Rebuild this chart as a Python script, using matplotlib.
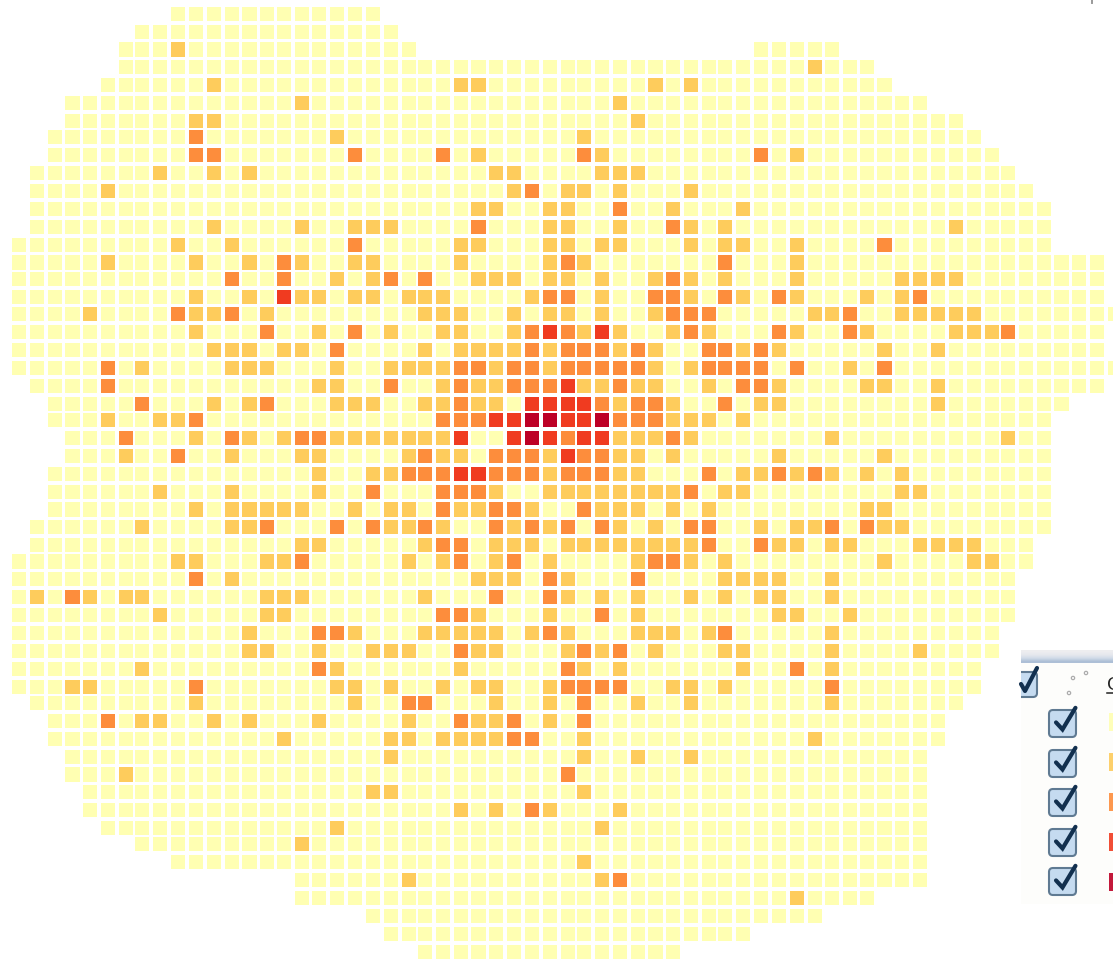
import numpy as np
import matplotlib
matplotlib.use("Agg")
import matplotlib.pyplot as plt
from matplotlib.collections import PatchCollection
from matplotlib.patches import Rectangle, FancyBboxPatch, Circle

# first and last occupied column of each grid row (row 2 has a second run)
row_first = [9,7,6,6,5,3,3,2,2,1,1,1,1,0,0,0,0,0,0,0,0,1,2,2,3,3,2,2,2,1,1,0,0,0,0,0,0,0,0,1,2,2,3,3,4,4,5,7,9,16,16,20,21,23]
row_last = [20,21,22,48,49,51,53,54,55,56,57,58,58,58,61,61,61,62,61,61,62,61,59,58,58,58,58,58,58,58,57,57,56,56,56,55,55,54,54,53,52,52,51,51,51,51,51,51,51,51,48,45,41,37]
row2_extra = (42, 46)

# non-lowest classes per row, written as column:class
row_cells = [
"", "", "9:1", "45:1",
"11:1 25:1 26:1 36:1 38:1",
"16:1 34:1",
"10:1 11:1 35:1",
"10:2 18:1 32:1",
"10:2 11:2 19:2 24:2 26:1 32:2 33:1 42:2 44:1",
"8:1 11:1 13:1 27:1 28:1 33:1 34:1 35:1",
"5:1 28:1 29:2 31:1 32:1 34:1 38:1",
"26:1 27:1 30:1 31:1 34:2 37:1 41:1",
"11:1 16:1 19:1 20:1 21:1 26:2 30:1 31:1 34:1 37:2 38:1 40:1 53:1",
"9:1 12:1 19:2 25:1 26:1 30:1 31:1 33:1 34:1 38:1 40:1 41:1 44:1 49:2",
"5:1 10:1 13:1 15:2 16:1 19:1 20:1 25:1 30:1 31:2 32:1 40:2 44:1",
"12:2 15:2 18:1 20:1 21:2 23:2 26:1 27:1 28:1 30:1 31:1 33:1 36:1 37:2 38:1 40:1 44:1 50:1 51:1 52:1 53:1",
"10:1 13:1 15:3 16:1 17:1 19:1 20:1 22:1 23:1 24:1 29:1 30:2 31:2 33:1 36:2 37:2 38:1 40:2 41:1 43:2 44:1 48:1 50:1 51:2",
"4:1 9:2 10:1 11:1 12:2 14:1 23:1 24:1 25:1 28:1 30:1 31:1 33:1 36:1 37:2 38:2 39:2 45:1 46:1 47:2 50:1 51:1 52:1 53:1 54:1",
"10:1 14:2 17:1 19:2 21:1 24:1 25:1 28:1 29:2 30:3 31:2 32:1 33:3 34:1 37:1 38:2 39:1 43:2 44:1 47:2 48:1 53:1 54:1 55:1 56:2",
"11:1 12:1 13:1 15:1 16:1 18:2 23:1 25:1 26:1 27:1 28:1 29:2 30:1 31:2 32:2 33:2 34:1 35:2 36:1 39:2 40:2 41:1 42:2 43:1 49:1 52:1",
"5:2 7:1 12:1 13:1 14:1 18:1 21:1 22:1 23:1 24:1 25:2 26:2 27:1 28:2 29:2 30:1 31:2 32:2 33:2 34:2 35:2 36:1 38:1 39:2 40:2 41:2 42:2 44:2 47:1 49:2",
"5:2 17:1 18:1 21:2 24:1 25:2 26:1 27:1 28:2 29:2 30:2 31:3 32:1 33:1 34:2 35:1 36:1 39:1 41:2 42:2 43:1 48:1 49:1 52:1",
"7:2 11:1 13:1 14:2 18:1 19:1 20:1 23:1 24:1 25:2 26:1 27:1 29:3 30:3 31:3 32:3 33:2 34:1 35:2 36:2 37:1 40:2 42:1 43:1 52:1",
"5:1 8:1 9:1 10:2 24:2 25:2 26:2 27:3 28:3 29:4 30:4 31:3 32:3 33:4 34:2 35:2 36:2 37:1 38:1 39:1 41:1",
"6:2 10:1 12:2 13:1 15:1 16:2 17:2 18:1 19:1 20:1 21:1 22:1 23:1 24:1 25:3 28:3 29:4 30:3 31:2 32:3 33:3 34:1 35:1 36:1 37:2 38:1 46:1 56:1",
"6:1 9:2 12:1 16:1 17:1 22:1 23:2 24:1 25:1 27:2 28:2 29:2 30:1 31:3 32:2 33:2 34:1 35:1 37:1 43:1 49:1",
"17:1 20:1 21:1 22:2 23:2 24:2 25:3 26:3 27:2 28:2 29:2 30:1 31:2 32:2 33:2 34:1 35:1 39:2 41:1 42:1 43:2 44:1 45:2 46:1 48:1 50:1",
"8:1 12:1 17:1 20:2 24:2 25:2 26:2 27:1 30:1 31:1 32:1 33:1 34:1 35:1 36:1 37:1 38:2 40:1 41:1 50:1 51:1",
"10:1 12:1 13:1 14:1 15:1 16:1 19:1 21:1 22:1 24:2 25:1 26:1 27:2 28:2 29:1 32:2 33:1 34:1 35:1 37:1 39:1 48:1 49:1",
"7:1 12:1 13:1 14:2 18:2 20:2 21:1 22:1 23:2 24:1 27:2 28:1 29:2 30:1 31:2 33:2 34:1 36:1 38:2 39:2 42:1 44:1 45:1 46:2 48:2 49:1 50:1",
"16:1 17:1 23:1 24:2 25:2 27:1 28:1 29:1 31:1 32:1 33:1 34:1 35:1 36:1 37:1 38:1 39:2 42:2 43:1 44:1 46:1 47:1 51:1 52:1 53:1 54:1",
"9:1 10:1 14:1 15:1 16:2 22:1 24:1 25:2 27:1 28:2 30:1 35:1 36:2 37:2 38:1 40:1 49:1 54:1 55:1",
"10:2 12:1 26:1 27:1 28:1 30:2 31:1 35:2 40:1 41:1 42:1 43:1 46:1",
"1:1 3:2 4:1 6:1 7:1 14:1 15:1 16:1 23:1 27:2 30:2 31:1 33:1 35:1 38:1 40:1 42:1 43:1 46:1",
"8:1 14:1 15:1 24:2 25:2 26:1 30:1 33:2 35:1 43:1 44:1 47:1",
"13:1 17:2 18:2 19:1 23:1 24:1 25:1 26:1 27:1 29:1 30:2 31:1 35:1 36:1 37:1 39:1 40:2 46:1",
"13:1 14:1 17:1 20:1 21:1 22:1 25:2 26:1 27:1 31:1 32:2 33:1 34:2 36:1 40:1 41:1 46:1 51:1",
"7:1 17:2 18:1 25:1 31:2 32:1 34:1 41:1 44:2 46:1",
"3:1 4:1 10:2 18:1 19:1 21:1 24:1 26:1 27:1 30:1 31:2 32:2 33:2 34:2 37:1 38:1 40:1 46:2",
"10:1 19:1 22:2 23:2 27:1 30:1 32:2 35:1 38:1 46:1",
"5:2 7:1 8:1 11:1 13:1 17:1 22:1 25:2 26:1 27:1 28:2 30:1 32:2",
"15:1 21:1 22:1 24:1 25:1 26:1 27:1 28:2 29:2 32:1 45:1",
"21:1 32:1 35:1 38:1",
"6:1 31:2",
"20:1 21:1 32:1",
"25:1 27:1 29:2 30:1 34:1",
"18:1 33:1",
"16:1",
"32:1",
"22:1 33:1 34:2",
"44:1",
"", "", "",
]
class_colors = ["#FFFFB2", "#FECC5C", "#FD8D3C", "#F03B20", "#BD0026"]
legend_heading = "G"

n_rows, n_cols = len(row_first), max(row_last) + 1
grid = np.full((n_rows, n_cols), -1, dtype=int)
for r, (a, b) in enumerate(zip(row_first, row_last)):
    grid[r, a:b + 1] = 0
grid[2, row2_extra[0]:row2_extra[1] + 1] = 0
for r, cells in enumerate(row_cells):
    for item in cells.split():
        c, v = item.split(":")
        grid[r, int(c)] = int(v)

W, H = 1113, 960
fig = plt.figure(figsize=(W / 100, H / 100), dpi=100, facecolor="white")
ax = fig.add_axes([0, 0, 1, 1])
ax.set_xlim(0, W)
ax.set_ylim(H, 0)
ax.axis("off")

# grid layout: the scan has a slightly narrower gap every eighth cell
CELL = 14.1
col_steps = np.full(n_cols, 17.84)
col_steps[0] = 19.0
col_steps[[7, 15, 23, 32, 40, 48, 56]] = 16.4
row_steps = np.full(n_rows, 17.89)
row_steps[0] = 13.7
row_steps[[7, 15, 23, 31, 39, 47]] = 16.2
col_px = np.cumsum(col_steps)
row_px = np.cumsum(row_steps)

patches, colors = [], []
for r, c in zip(*np.nonzero(grid >= 0)):
    patches.append(Rectangle((col_px[c] - CELL / 2, row_px[r] - CELL / 2), CELL, CELL))
    colors.append(class_colors[grid[r, c]])
ax.add_collection(PatchCollection(patches, facecolors=colors, edgecolors="none", zorder=1))

# legend panel fragment
ax.add_patch(Rectangle((1021, 650), 92, 254, fc="#FDFDFB", ec="none", zorder=2))
ramp = np.array([[[0.93, 0.93, 0.94]], [[0.90, 0.91, 0.93]], [[0.82, 0.86, 0.91]], [[0.68, 0.75, 0.84]]])
ax.imshow(ramp, extent=(1021, 1113, 663, 650), aspect="auto", interpolation="bilinear", zorder=3)
ax.set_xlim(0, W)
ax.set_ylim(H, 0)


def checkbox(x0, y0, w, h):
    ax.add_patch(FancyBboxPatch((x0 + 3, y0 + 3), w - 6, h - 6,
                                boxstyle="round,pad=3,rounding_size=4",
                                fc="#C5DBF0", ec="#5F7A92", lw=1.5, zorder=4))
    ax.plot([x0 + 0.26 * w, x0 + 0.5 * w, x0 + w * 0.98],
            [y0 + 0.46 * h, y0 + 0.72 * h, y0 - 0.08 * h],
            color="#12304F", lw=3.0, solid_capstyle="round", solid_joinstyle="miter", zorder=5)


box_tops = [710, 750, 789, 829, 868]
for top in box_tops:
    checkbox(1049, top, 27, 27)
for top, col in zip([713, 753, 793, 833, 873], class_colors):
    ax.add_patch(Rectangle((1109, top), 4, 18, fc=col, ec="none", alpha=0.9, zorder=4))

# cropped top checkbox
clip = Rectangle((1021, 660), 20, 45, transform=ax.transData)
top_box = FancyBboxPatch((1012, 675), 22, 19, boxstyle="round,pad=3,rounding_size=4",
                         fc="#C5DBF0", ec="#5F7A92", lw=1.5, zorder=4)
ax.add_patch(top_box)
top_box.set_clip_path(clip)
ax.plot([1021, 1025, 1037], [684, 691, 668], color="#12304F", lw=3.0,
        solid_capstyle="round", zorder=5)

for x, y in [(1073, 678), (1086, 673), (1069, 693)]:
    ax.add_patch(Circle((x, y), 1.7, fc="#F4F4F4", ec="#A8A8A8", lw=0.8, zorder=4))

ax.text(1107, 690, legend_heading, fontsize=14, family="Liberation Sans",
        color="#222222", ha="left", va="baseline", zorder=6, clip_on=True)
ax.plot([1107, 1113], [693, 693], color="#222222", lw=1.1, zorder=6)

# stray mark at the upper edge of the capture
ax.plot([1092, 1092], [0, 3], color="#9A9A9A", lw=1.4, zorder=6)

fig.savefig("out.png", dpi=100, facecolor="white")
